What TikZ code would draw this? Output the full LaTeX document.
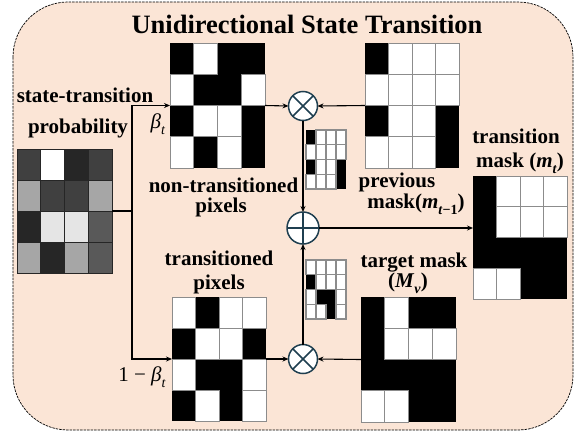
\documentclass[tikz,border=0pt]{standalone}
\usepackage{fontspec}
\setmainfont{Liberation Serif}
\usetikzlibrary{arrows.meta}

\definecolor{panelbg}{HTML}{FBE5D6}
\definecolor{opline}{HTML}{1F3F50}
\definecolor{cellline}{HTML}{8C8C8C}

% lowered small subscript for the inline math labels
\newcommand{\lowsub}[1]{\raisebox{-0.32em}{\fontsize{14}{14}\selectfont #1}}
\newcommand{\bi}[1]{\textbf{\textit{#1}}}

% binary mask: values are the black percentage of each cell (0 or 100);
% white cells get a thin grey outline
\newcommand{\maskgrid}[7]{%
  \node[minimum width=#4pt, minimum height=#5pt, inner sep=0, outer sep=0] (#1) at (#2,#3) {};
  \foreach \rowvals [count=\r] in {#7} {
    \foreach \v [count=\c] in \rowvals {
      \pgfmathsetmacro\xa{#2-#4/2+(\c-1)*#4/4}
      \pgfmathsetmacro\ya{#3-#5/2+(\r-1)*#5/4}
      \fill[black!\v] (\xa,\ya) rectangle ++(#4/4,#5/4);
    }
  }
  \foreach \rowvals [count=\r] in {#7} {
    \foreach \v [count=\c] in \rowvals {
      \pgfmathsetmacro\xa{#2-#4/2+(\c-1)*#4/4}
      \pgfmathsetmacro\ya{#3-#5/2+(\r-1)*#5/4}
      \ifnum\v=0
        \draw[cellline, line width=#6] (\xa,\ya) rectangle ++(#4/4,#5/4);
      \fi
    }
  }
}

% grey-level map: every cell outlined in dark grey
\newcommand{\greygrid}[6]{%
  \node[minimum width=#4pt, minimum height=#5pt, inner sep=0, outer sep=0] (#1) at (#2,#3) {};
  \foreach \rowvals [count=\r] in {#6} {
    \foreach \v [count=\c] in \rowvals {
      \pgfmathsetmacro\xa{#2-#4/2+(\c-1)*#4/4}
      \pgfmathsetmacro\ya{#3-#5/2+(\r-1)*#5/4}
      \filldraw[fill=black!\v, draw=black!85, line width=0.9pt] (\xa,\ya) rectangle ++(#4/4,#5/4);
    }
  }
}

\tikzset{
  lbl/.style={font=\fontsize{21}{22}\selectfont\bfseries, anchor=base, inner sep=0},
  mathlbl/.style={font=\fontsize{21}{22}\selectfont, anchor=base, inner sep=0},
  link/.style={line width=1.1pt},
  arr/.style={link, -{Stealth[length=6pt,width=5pt]}},
  op/.style={circle, draw=opline, line width=1.5pt, fill=white, inner sep=0, outer sep=0},
}

\begin{document}
\begin{tikzpicture}[x=1pt, y=-1pt]
\useasboundingbox (0,0) rectangle (580,434);

% panel
\draw[fill=panelbg, line width=0.7pt, dash pattern=on 2.5pt off 1pt, rounded corners=55pt]
  (13,2) rectangle (573,430);

\node[font=\fontsize{26.5}{28}\selectfont\bfseries, anchor=base, inner sep=0] (title) at (307,33)
  {Unidirectional State Transition};

% grids
\greygrid{prob}{64.5}{211}{95}{124}{{75,0,85,75},{35,75,75,35},{85,10,10,65},{35,85,35,65}}
\maskgrid{nt}{217.5}{105.5}{95}{125}{0.8pt}{{100,0,100,100},{0,100,100,0},{100,0,0,100},{0,100,0,100}}
\maskgrid{prev}{412}{105.5}{94}{125}{0.8pt}{{100,0,0,0},{0,0,0,0},{100,0,0,100},{0,0,0,100}}
\maskgrid{tm}{520}{237.5}{94}{123}{0.8pt}{{100,0,0,0},{100,0,0,0},{100,100,100,100},{0,0,100,100}}
\maskgrid{tr}{219}{359}{94}{124}{0.8pt}{{0,100,0,0},{100,0,0,100},{0,100,100,0},{100,0,100,0}}
\maskgrid{tg}{408.5}{359.5}{95}{125}{0.8pt}{{100,0,100,100},{100,0,0,0},{100,100,100,100},{0,0,100,100}}
\maskgrid{kept}{326}{159.5}{40}{59}{1.1pt}{{100,0,0,0},{0,0,0,0},{100,0,0,100},{0,0,0,100}}
\maskgrid{moved}{326}{289.5}{40}{59}{1.1pt}{{0,0,0,0},{100,0,0,0},{0,100,100,0},{0,0,100,0}}

% operators
\node[op, minimum size=29pt] (mul1) at (303,106) {};
\draw[opline, line width=1.5pt] (mul1.north east) -- (mul1.south west) (mul1.north west) -- (mul1.south east);
\node[op, minimum size=32pt] (add) at (303,228) {};
\draw[opline, line width=1.5pt] (add.north) -- (add.south) (add.west) -- (add.east);
\node[op, minimum size=29pt] (mul2) at (303,359) {};
\draw[opline, line width=1.5pt] (mul2.north east) -- (mul2.south west) (mul2.north west) -- (mul2.south east);

% connectors
\coordinate (split) at (132,211);
\draw[link] (prob.east) -- (split);
\draw[arr] (split) |- (nt.west);
\draw[arr] (split) |- (tr.west);
\draw[arr] (nt.east) -- (mul1.west);
\draw[arr] (prev.west) -- (mul1.east);
\draw[arr] (mul1.south) -- (add.north);
\draw[arr] (mul2.north) -- (add.south);
\draw[arr] (tr.east) -- (mul2.west);
\draw[arr] (tg.west) -- (mul2.east);
\draw[arr] (add.east) -- (add.east -| tm.west);

% labels
\node[lbl] (lstate) at (85,102) {state-transition};
\node[lbl] (lprob) at (78,133) {probability};
\node[mathlbl] (lbeta) at (158,128) {\textit{β}\lowsub{\textit{t}}};
\node[mathlbl] (lonem) at (142,381) {1 − \textit{β}\lowsub{\textit{t}}};
\node[lbl] (lnt1) at (223.5,192) {non-transitioned};
\node[lbl] (lnt2) at (221,212) {pixels};
\node[lbl] (lprev1) at (397,187) {previous};
\node[lbl] (lprev2) at (416,208) {mask(\bi{m}\lowsub{\bi{t}\textbf{−1}})};
\node[lbl] (ltm1) at (516,143) {transition};
\node[lbl] (ltm2) at (520,167) {mask (\bi{m}\lowsub{\bi{t}})};
\node[lbl] (ltr1) at (219,265) {transitioned};
\node[lbl] (ltr2) at (219,289) {pixels};
\node[lbl] (ltg1) at (414,267) {target mask};
\node[lbl] (ltg2) at (408,287) {(\bi{M}\lowsub{\bi{v}})};
\end{tikzpicture}
\end{document}
